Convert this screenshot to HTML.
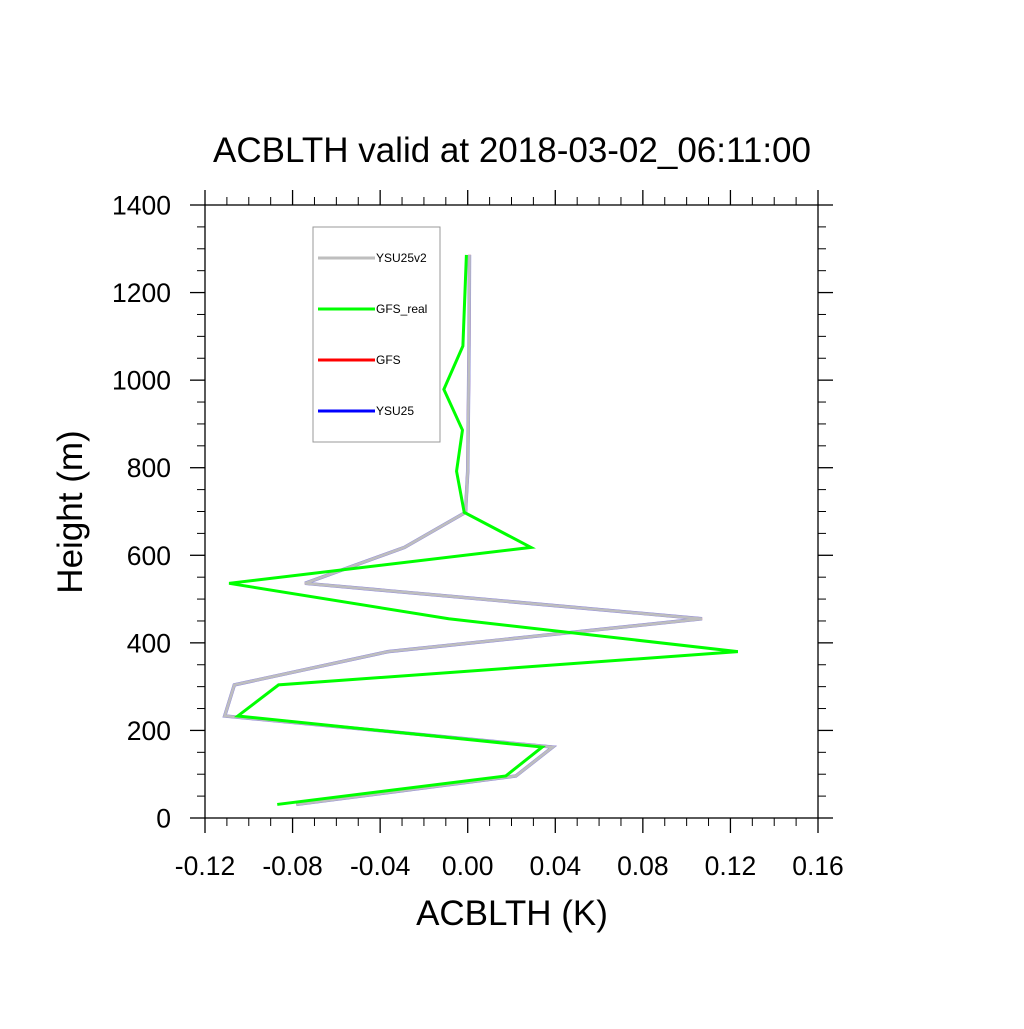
<!DOCTYPE html>
<html><head><meta charset="utf-8"><style>
body{margin:0;background:#fff}
svg text{font-family:"Liberation Sans",sans-serif;fill:#000}
</style></head><body>
<svg id="chart" width="1024" height="1024" xmlns="http://www.w3.org/2000/svg">
<text x="512" y="162" font-size="35" text-anchor="middle">ACBLTH valid at 2018-03-02_06:11:00</text>
<text x="512" y="925" font-size="35" text-anchor="middle">ACBLTH (K)</text>
<text transform="translate(82,512) rotate(-90)" font-size="35" text-anchor="middle">Height (m)</text>
<g id="axes"></g>
<g id="series"></g>
<g>
<rect x="313" y="227" width="127" height="215" fill="#fff" stroke="#999" stroke-width="1"/>
<g><line x1="318" y1="258" x2="375" y2="258" stroke="#bebebe" stroke-width="3"/><text x="376" y="262" font-size="12">YSU25v2</text></g>
<g><line x1="318" y1="309" x2="375" y2="309" stroke="#00ff00" stroke-width="3"/><text x="376" y="313" font-size="12">GFS_real</text></g>
<g><line x1="318" y1="360" x2="375" y2="360" stroke="#ff0000" stroke-width="3"/><text x="376" y="364" font-size="12">GFS</text></g>
<g><line x1="318" y1="411" x2="375" y2="411" stroke="#0000ff" stroke-width="3"/><text x="376" y="415" font-size="12">YSU25</text></g>
</g>
</svg>
<script>
const heights = [31, 96, 162, 233, 304, 380, 455, 536, 618, 698, 792, 886, 979, 1078, 1286];
const gfsReal = [-0.087, 0.0174, 0.034, -0.105, -0.0864, 0.1234, -0.0087, -0.109, 0.0289, -0.0016, -0.0051, -0.0024, -0.0109, -0.0022, -0.0006];
const ysu25v2 = [-0.0783, 0.022, 0.0388, -0.111, -0.1066, -0.0364, 0.107, -0.0743, -0.0289, -0.001, 0.0, 0.0002, 0.0004, 0.0006, 0.0008];
const ysu25 = [-0.0783, 0.022, 0.0388, -0.111, -0.1066, -0.0364, 0.107, -0.0743, -0.0289, -0.001, 0.0, 0.0002, 0.0004, 0.0006, 0.0008];
const gfs = [-0.0783, 0.022, 0.0388, -0.111, -0.1066, -0.0364, 0.107, -0.0743, -0.0289, -0.001, 0.0, 0.0002, 0.0004, 0.0006, 0.0008];
const xTicks = [-0.12, -0.08, -0.04, 0.00, 0.04, 0.08, 0.12, 0.16];
const xTickLabels = ["-0.12", "-0.08", "-0.04", "0.00", "0.04", "0.08", "0.12", "0.16"];
const yTicks = [0, 200, 400, 600, 800, 1000, 1200, 1400];

const L=205,R=818,T=205,B=818;
const xMin=-0.12,xMax=0.16,yMin=0,yMax=1400;
function sx(v){return L+(v-xMin)/(xMax-xMin)*(R-L);}
function sy(v){return B-(v-yMin)/(yMax-yMin)*(B-T);}
const NS="http://www.w3.org/2000/svg";
const axes=document.getElementById('axes');
function mk(tag,attrs,parent){const e=document.createElementNS(NS,tag);for(const k in attrs)e.setAttribute(k,attrs[k]);parent.appendChild(e);return e;}
const frame=mk('rect',{x:L,y:T,width:R-L,height:B-T,fill:'none',stroke:'#000','stroke-width':1.3},axes);


for(let i=0;i<xTicks.length;i++){
  const x=sx(xTicks[i]);
  const t1=mk('line',{x1:x,y1:B,x2:x,y2:B+15,stroke:'#000','stroke-width':1.3},axes);
  
  
  mk('line',{x1:x,y1:T,x2:x,y2:T-15,stroke:'#000','stroke-width':1.3},axes);
  const lb=mk('text',{x:x,y:B+57,'font-size':26.5,'text-anchor':'middle'},axes);
  lb.textContent=xTickLabels[i];
  
  
  if(i<xTicks.length-1){for(let k=1;k<4;k++){const xm=sx(xTicks[i]+k*0.01);
    mk('line',{x1:xm,y1:B,x2:xm,y2:B+8,stroke:'#000','stroke-width':1},axes);
    mk('line',{x1:xm,y1:T,x2:xm,y2:T-8,stroke:'#000','stroke-width':1},axes);}}
}
for(let i=0;i<yTicks.length;i++){
  const y=sy(yTicks[i]);
  const t1=mk('line',{x1:L-15,y1:y,x2:L,y2:y,stroke:'#000','stroke-width':1.3},axes);
  
  
  mk('line',{x1:R,y1:y,x2:R+15,y2:y,stroke:'#000','stroke-width':1.3},axes);
  const lb=mk('text',{x:L-34,y:y+9.5,'font-size':26.5,'text-anchor':'end'},axes);
  lb.textContent=String(yTicks[i]);
  
  
  if(i<yTicks.length-1){for(let k=1;k<4;k++){const ym=sy(yTicks[i]+k*50);
    mk('line',{x1:L-8,y1:ym,x2:L,y2:ym,stroke:'#000','stroke-width':1},axes);
    mk('line',{x1:R,y1:ym,x2:R+8,y2:ym,stroke:'#000','stroke-width':1},axes);}}
}
const series=document.getElementById('series');
function draw(vals,color,w,name){
  const pts=vals.map((v,i)=>sx(v)+','+sy(heights[i])).join(' ');
  const p=mk('polyline',{points:pts,fill:'none',stroke:color,'stroke-width':w,'stroke-linejoin':'miter'},series);
  
  
}
draw(gfs,'#ff0000',3,'gfs-line');
draw(ysu25,'#9090e0',3.5,'ysu25-line');
draw(ysu25v2,'#bebebe',2.6,'ysu25v2-line');
draw(gfsReal,'#00ff00',3,'gfs-real-line');
</script>
</body></html>
